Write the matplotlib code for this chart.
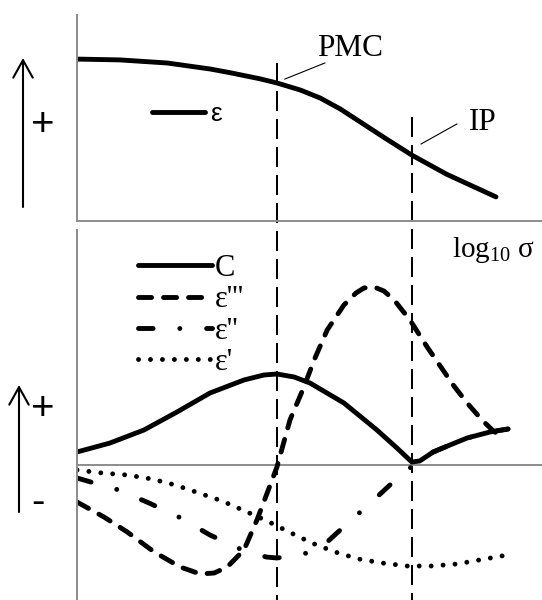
import matplotlib
matplotlib.use('Agg')
import matplotlib.pyplot as plt

plt.rcParams['mathtext.fontset'] = 'custom'
plt.rcParams['mathtext.rm'] = 'Liberation Serif'
plt.rcParams['mathtext.it'] = 'Liberation Serif:italic'

# ---- data (x in arbitrary log10 sigma units) ----
x_top = [0, 0.92, 1.94, 2.86, 3.29, 3.94, 4.30, 4.80, 5.23, 5.66, 6.09, 6.62, 7.20, 7.94, 8.45, 9.01]
eps_top = [7.86, 7.82, 7.67, 7.38, 7.20, 6.90, 6.70, 6.36, 5.97, 5.44, 4.81, 4.03, 3.20, 2.28, 1.75, 1.17]

x_c = [0, 0.71, 1.44, 2.15, 2.86, 3.59, 4.02, 4.30, 4.67, 5.01, 5.74, 6.45, 6.88, 7.20,
       7.37, 7.66, 8.02, 8.39, 8.88, 9.27]
c_vals = [0.65, 1.1, 1.75, 2.65, 3.6, 4.25, 4.5, 4.55, 4.4, 4.1, 3.1, 1.75, 0.85, 0.15,
          0.2, 0.65, 1.0, 1.35, 1.65, 1.8]

x_e3 = [0, 0.58, 1.08, 1.66, 2.22, 2.65, 2.95, 3.23, 3.59, 3.87, 4.09, 4.30, 4.58, 4.88, 5.10,
        5.38, 5.74, 6.00, 6.17, 6.39, 6.60, 6.82, 7.16, 7.53, 7.87, 8.09, 8.39, 8.71, 8.93, 9.10]
e3_vals = [-1.85, -2.6, -3.35, -4.35, -5.1, -5.45, -5.4, -5.1, -4.25, -2.75, -1.4, -0.1, 2.25, 3.9, 5.25,
           6.75, 8.0, 8.6, 8.85, 8.9, 8.7, 8.25, 7.25, 5.9, 4.75, 4.0, 3.1, 2.25, 1.75, 1.45]

x_e2 = [0, 0.37, 0.90, 1.55, 2.19, 2.86, 3.51, 4.07, 4.30, 4.88, 5.31, 5.66, 6.02, 6.45,
        6.73, 7.10, 7.37, 7.66, 8.02, 8.39, 8.88, 9.27]
e2_vals = [-0.65, -0.9, -1.25, -1.9, -2.6, -3.5, -4.2, -4.6, -4.65, -4.45, -4.0, -3.25, -2.5, -1.6,
           -1.0, -0.25, 0.2, 0.65, 1.0, 1.35, 1.65, 1.8]

x_e1 = [0, 0.54, 1.08, 1.61, 2.11, 2.62, 3.12, 3.61, 4.09, 4.56, 5.05, 5.55, 6.06, 6.56, 7.10,
        7.63, 8.17, 9.25]
e1_vals = [-0.25, -0.4, -0.5, -0.7, -1.0, -1.4, -1.8, -2.3, -2.8, -3.35, -3.9, -4.35, -4.7, -4.9, -5.05,
           -5.05, -4.95, -4.5]

x_pmc = 4.30
x_ip = 7.20

serif = 'Liberation Serif'
sans = 'Liberation Sans'
gray = '#8c8c8c'
lw = 3.5

fig = plt.figure(figsize=(5.42, 6), dpi=100)

# top panel
ax1 = fig.add_axes([77 / 542, 1 - 221 / 600, 465 / 542, 206 / 600])
ax1.set_xlim(0, 10)
ax1.set_ylim(0, 10)
for s in ['top', 'right']:
    ax1.spines[s].set_visible(False)
for s in ['left', 'bottom']:
    ax1.spines[s].set_color(gray)
    ax1.spines[s].set_linewidth(1.4)
ax1.set_xticks([])
ax1.set_yticks([])
ax1.patch.set_alpha(0)

ax1.plot(x_top, eps_top, color='black', lw=lw, solid_capstyle='round',
         solid_joinstyle='round', label='ε')
ax1.legend(loc='center left', bbox_to_anchor=(0.161, 0.52), frameon=False,
           prop={'family': sans, 'size': 19}, handlelength=2.0, handletextpad=0.2,
           borderpad=0, borderaxespad=0)

# vertical markers, running down through the lower panel
vdash = (0, (10, 4))
ax1.plot([x_pmc, x_pmc], [7.67, -18.5], color='black', lw=1.44, ls=vdash, clip_on=False)
ax1.plot([x_ip, x_ip], [5.05, -18.5], color='black', lw=1.44, ls=vdash, clip_on=False)

ax1.plot([4.47, 5.33], [6.89, 7.67], color='black', lw=0.8, clip_on=False)
ax1.text(5.16, 8.01, 'PMC', family=serif, fontsize=22.5, va='baseline', ha='left')
ax1.plot([7.40, 8.17], [3.74, 4.71], color='black', lw=0.8, clip_on=False)
ax1.text(8.43, 4.42, 'IP', family=serif, fontsize=22.5, va='baseline', ha='left')

# bottom panel
ax2 = fig.add_axes([77 / 542, 0, 465 / 542, 370 / 600])
ax2.set_xlim(0, 10)
ax2.set_ylim(-6.75, 11.75)
for s in ['top', 'right', 'bottom']:
    ax2.spines[s].set_visible(False)
ax2.spines['left'].set_color(gray)
ax2.spines['left'].set_linewidth(1.4)
ax2.set_xticks([])
ax2.set_yticks([])
ax2.patch.set_alpha(0)
ax2.axhline(0, color=gray, lw=1.4)

ax2.plot(x_c, c_vals, color='black', lw=lw, solid_capstyle='round',
         solid_joinstyle='round', label='C')
ax2.plot(x_e3, e3_vals, color='black', lw=lw, ls=(0, (2.7, 2.45)), dash_capstyle='round',
         dash_joinstyle='round', label="ε'''")
ax2.plot(x_e2, e2_vals, color='black', lw=lw, ls=(0, (3.0, 5.5, 0.01, 5.5)), dash_capstyle='round',
         dash_joinstyle='round', label="ε''")
ax2.plot(x_e1, e1_vals, color='black', lw=lw, ls=(0, (0.01, 2.45)), dash_capstyle='round',
         label="ε'")

ax2.legend(loc='center left', bbox_to_anchor=(0.131, 0.769), frameon=False,
           prop={'family': serif, 'size': 22}, handlelength=2.42, handletextpad=0.1,
           labelspacing=0.08, borderpad=0, borderaxespad=0)

ax2.text(8.06, 10.4, r'log$_{10}$ σ', family=serif, fontsize=21, va='baseline', ha='left')

# left-hand arrows and signs (figure pixel space)
ov = fig.add_axes([0, 0, 1, 1])
ov.set_xlim(0, 542)
ov.set_ylim(600, 0)
ov.axis('off')
arrow = dict(arrowstyle='->,head_length=0.45,head_width=0.25', lw=1.5, color='black',
             mutation_scale=28, shrinkA=0, shrinkB=0)
ov.annotate('', xy=(23, 58), xytext=(23, 207), arrowprops=arrow)
ov.annotate('', xy=(19, 385), xytext=(19, 512), arrowprops=arrow)
ov.text(43, 125, '+', family=sans, fontsize=29, ha='center', va='center')
ov.text(43, 409, '+', family=sans, fontsize=29, ha='center', va='center')
ov.text(38, 502, '-', family=sans, fontsize=29, ha='center', va='center')

fig.savefig('out.png', dpi=100)
